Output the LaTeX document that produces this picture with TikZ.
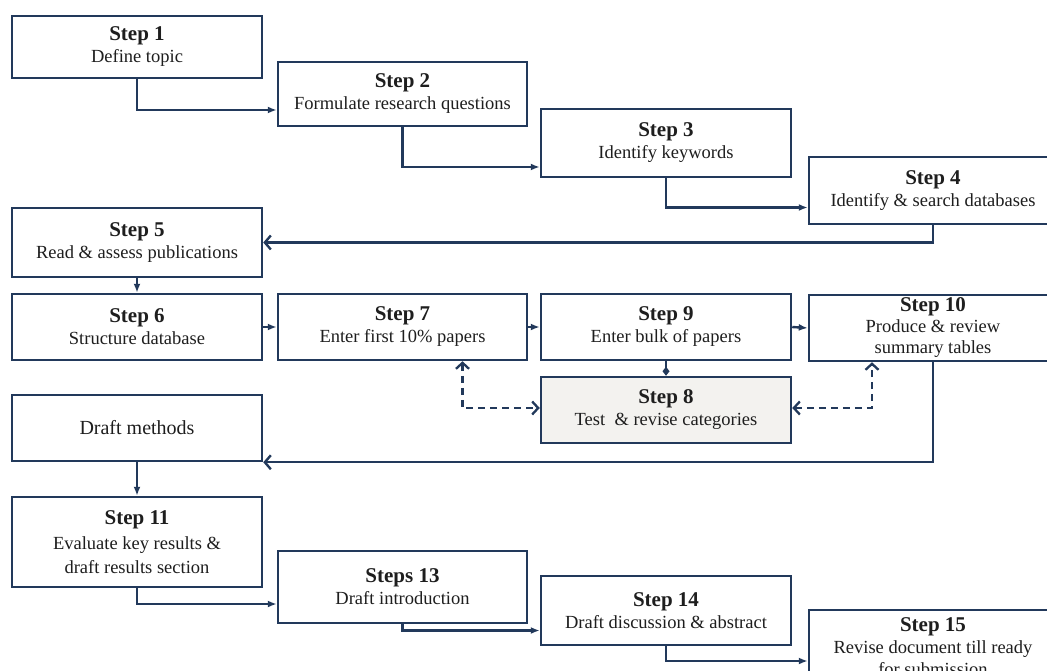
\documentclass[tikz,border=0pt]{standalone}
\usepackage{fontspec}
\setmainfont{Liberation Serif}
\usetikzlibrary{arrows.meta,calc}
\definecolor{navy}{HTML}{22395B}
\definecolor{boxgray}{HTML}{F3F2EF}
\definecolor{txt}{HTML}{1E1E1E}
\newcommand{\hd}[1]{{\fontsize{21}{22}\selectfont\bfseries #1}}
\begin{document}
\begin{tikzpicture}[x=1pt,y=-1pt,
  stepbox/.style={draw=navy, line width=2.5pt, fill=white, align=center, text=txt,
    font=\fontsize{18.5}{22}\selectfont, inner sep=0pt, minimum width=250pt, minimum height=66pt},
  conn/.style={draw=navy, line width=2.4pt, -{Latex[length=9pt,width=7pt]}},
  openconn/.style={draw=navy, line width=2.4pt, -{Straight Barb[length=6pt,width=14pt]}},
  dashconn/.style={draw=navy, line width=2.3pt, dash pattern=on 7pt off 5pt,
    {Straight Barb[length=6pt,width=13pt]}-{Straight Barb[length=6pt,width=13pt]}},
  diamconn/.style={draw=navy, line width=2.2pt, -{Diamond[length=9pt,width=7pt]}},
]
\useasboundingbox (0,0) rectangle (1047,671);
\clip (0,0) rectangle (1047,671);

% row 1 staircase
\node[stepbox, minimum height=62pt] (s1) at (137,47) {\hd{Step 1}\\Define topic};
\node[stepbox, minimum width=249pt, minimum height=64pt] (s2) at (402.5,94) {\hd{Step 2}\\Formulate research questions};
\node[stepbox, minimum height=68pt] (s3) at (666,143) {\hd{Step 3}\\Identify keywords};
\node[stepbox, minimum width=248pt, minimum height=67pt] (s4) at (933,190.5) {\hd{Step 4}\\Identify \& search databases};

% row 2
\node[stepbox, minimum height=69pt] (s5) at (137,242.5) {\hd{Step 5}\\Read \& assess publications};
\node[stepbox] (s6) at (137,327) {\hd{Step 6}\\Structure database};
\node[stepbox, minimum width=249pt] (s7) at (402.5,327) {\hd{Step 7}\\Enter first 10\% papers};
\node[stepbox] (s9) at (666,327) {\hd{Step 9}\\Enter bulk of papers};
\node[stepbox, minimum width=248pt, font=\fontsize{18.5}{21}\selectfont] (s10) at (933,328) {\hd{Step 10}\\Produce \& review\\summary tables};
\node[stepbox, fill=boxgray] (s8) at (666,410) {\hd{Step 8}\\Test~ \& revise categories};
\node[stepbox, font=\fontsize{20}{22}\selectfont] (dm) at (137,428) {Draft methods};

% row 3 staircase
\node[stepbox, minimum height=90pt] (s11) at (137,542) {\hd{Step 11}\\[3pt]Evaluate key results \&\\[2pt]draft results section};
\node[stepbox, minimum width=249pt, minimum height=72pt] (s13) at (402.5,587) {\hd{Steps 13}\\Draft introduction};
\node[stepbox, minimum height=69pt] (s14) at (666,610.5) {\hd{Step 14}\\Draft discussion \& abstract};
\node[stepbox, minimum width=248pt, minimum height=74pt] (s15) at (933,647) {\hd{Step 15}\\Revise document till ready\\for submission};

% connectors
\draw[conn] (s1.south) |- ([yshift=-16pt]s2.west);
\draw[conn] (s2.south) |- ([yshift=-24pt]s3.west);
\draw[conn] (s3.south) |- ([yshift=-17pt]s4.west);
\draw[openconn] (s4.south) |- (s5.east);
\draw[conn] (s5.south) -- (s6.north);
\draw[conn] (s6.east) -- (s7.west);
\draw[conn] (s7.east) -- (s9.west);
\draw[conn] (s9.east) -- (s10.west);
\draw[diamconn] (s9.south) -- (s8.north);
\draw[dashconn] ([xshift=60pt]s7.south) |- ([yshift=2pt]s8.west);
\draw[dashconn] ([yshift=2pt]s8.east) -| ([xshift=-61pt]s10.south);
\draw[openconn] (s10.south) |- (dm.south east);
\draw[conn] (dm.south) -- (s11.north);
\draw[conn] (s11.south) |- ([yshift=-17pt]s13.west);
\draw[conn] (s13.south) |- ([yshift=-20pt]s14.west);
\draw[conn] (s14.south) |- ([yshift=-14pt]s15.west);
\end{tikzpicture}
\end{document}
